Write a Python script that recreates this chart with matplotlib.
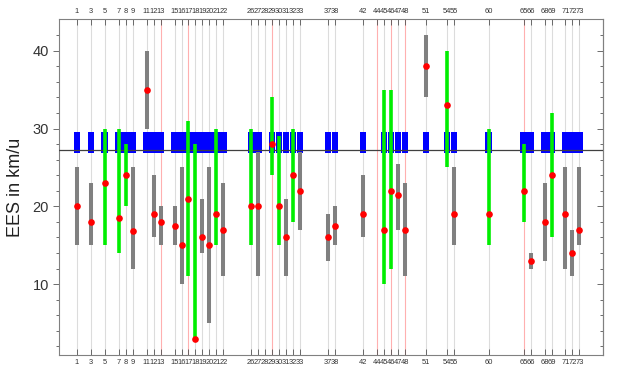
import matplotlib as mpl
mpl.use('Agg')
import matplotlib.pyplot as plt

mpl.rcParams['font.family'] = ['Liberation Sans', 'DejaVu Sans']

# category positions shown on the top / bottom axes
ticks = [1, 3, 5, 7, 8, 9, 11, 12, 13, 15, 16, 17, 18, 19, 20, 21, 22,
         26, 27, 28, 29, 30, 31, 32, 33, 37, 38, 42, 44, 45, 46, 47, 48,
         51, 54, 55, 60, 65, 66, 68, 69, 71, 72, 73]
pink = [13, 17, 29, 44, 46, 48, 65]
no_box = [28, 44]

# ranges and central values
cats = [1, 3, 5, 7, 8, 9, 11, 12, 13, 15, 16, 17, 18, 19, 20, 21, 22,
        26, 27, 29, 30, 31, 32, 33, 37, 38, 42, 45, 46, 47, 48,
        51, 54, 55, 60, 65, 66, 68, 69, 71, 72, 73]
kind = ['g', 'g', 'G', 'G', 'G', 'g', 'g', 'g', 'g', 'g', 'g', 'G', 'G', 'g', 'g', 'G', 'g',
        'G', 'g', 'G', 'G', 'g', 'G', 'g', 'g', 'g', 'g', 'G', 'G', 'g', 'g',
        'g', 'G', 'g', 'G', 'G', 'g', 'g', 'G', 'g', 'g', 'g']
lo = [15, 15, 15, 14, 20, 12, 30, 16, 15, 15, 10, 11, 3, 14, 5, 15, 11,
      15, 11, 24, 15, 11, 18, 17, 13, 15, 16, 10, 12, 17, 11,
      34, 25, 15, 15, 18, 12, 13, 16, 12, 11, 15]
hi = [25, 23, 30, 30, 28, 25, 40, 24, 20, 20, 25, 31, 28, 21, 25, 30, 23,
      30, 27, 34, 29, 21, 30, 27, 19, 20, 24, 35, 35, 25.5, 23,
      42, 40, 25, 30, 28, 14, 23, 32, 25, 17, 25]
val = [20, 18, 23, 18.5, 24, 16.8, 35, 19, 18, 17.5, 15, 21, 3, 16, 15, 19, 17,
       20, 20, 28, 20, 16, 24, 22, 16, 17.5, 19, 17, 22, 21.5, 17,
       38, 33, 19, 19, 22, 13, 18, 24, 19, 14, 17]

box_lo = 26.9
box_hi = 29.6
ref = 27.2

fig = plt.figure(figsize=(6.18, 3.78), dpi=100)
ax = fig.add_axes([0.096, 0.061, 0.880, 0.888])

for t in ticks:
    c = '#ffb0b0' if t in pink else '#dcdcdc'
    ax.axvline(t, color=c, lw=0.8, zorder=0)

bx = [t for t in ticks if t not in no_box]
ax.bar(bx, [box_hi - box_lo] * len(bx), bottom=box_lo, width=0.92,
       color='#0000ff', edgecolor='none', zorder=2)
ax.axhline(ref, color='#404040', lw=0.9, zorder=3)

for x, k, a, b in zip(cats, kind, lo, hi):
    if k == 'G':
        ax.vlines(x, a, b, color='#00ee00', lw=2.6, zorder=4)
    else:
        ax.vlines(x, a, b, color='#808080', lw=2.9, zorder=4)
ax.plot(cats, val, 'o', color='#ff0000', ms=4.8, mec='none', zorder=5)

ax.set_xlim(-1.5, 76.4)
ax.set_ylim(0.9, 44.05)
ax.set_xticks(ticks)
ax.set_xticklabels([str(t) for t in ticks])
ax.set_yticks([10, 20, 30, 40])
ax.set_yticks(range(2, 44, 2), minor=True)
ax.tick_params(axis='x', direction='in', top=True, labeltop=True,
               labelsize=5.4, length=4, width=0.6, colors='#555555', pad=3)
ax.tick_params(axis='x', labelcolor='#333333')
ax.tick_params(axis='y', which='major', direction='out', length=4, width=0.6,
               labelsize=10.5, colors='#555555', labelcolor='#333333')
ax.tick_params(axis='y', which='minor', direction='out', length=2, width=0.6, colors='#555555')

r = ax.secondary_yaxis('right')
r.set_yticks([10, 20, 30, 40])
r.set_yticks(range(2, 44, 2), minor=True)
r.tick_params(which='major', direction='in', length=4, width=0.6, colors='#555555', labelright=False)
r.tick_params(which='minor', direction='in', length=2, width=0.6, colors='#555555')
r.spines['right'].set_color('#808080')

for s in ax.spines.values():
    s.set_color('#808080')
    s.set_linewidth(0.8)

ax.set_ylabel('EES in km/u', fontsize=13, color='#222222', labelpad=6)

fig.savefig('out.png', dpi=100)
